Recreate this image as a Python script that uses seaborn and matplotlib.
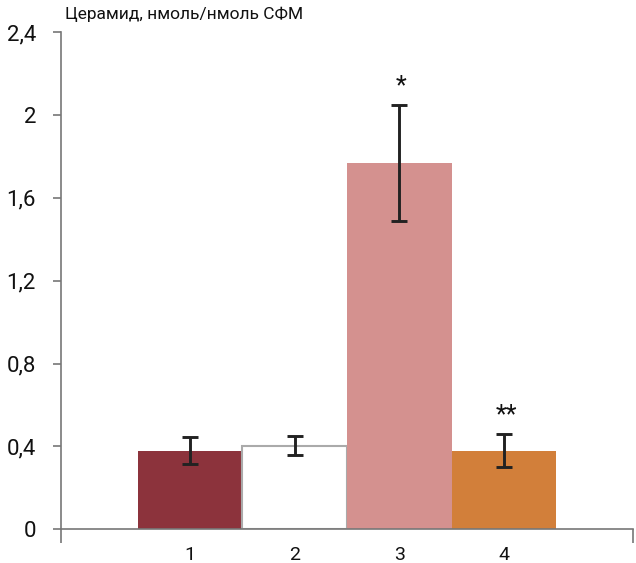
import matplotlib
matplotlib.use("Agg")
import matplotlib.pyplot as plt
import seaborn as sns
import numpy as np

# Ceramide content per group
groups = ["1", "2", "3", "4"]
ceramide = [0.38, 0.404, 1.77, 0.38]
sem = [0.066, 0.048, 0.28, 0.078]
marks = ["", "", "*", "**"]
bar_colors = ["#8C333C", "#FFFFFF", "#D4918F", "#D27F3A"]
y_ticks = [0, 0.4, 0.8, 1.2, 1.6, 2.0, 2.4]
y_tick_labels = ["0", "0,4", "0,8", "1,2", "1,6", "2", "2,4"]
y_title = "Церамид, нмоль/нмоль СФМ"

sns.set_style("white")
plt.rcParams["font.family"] = ["Roboto", "DejaVu Sans"]

fig = plt.figure(figsize=(6.36, 5.63), dpi=100)
ax = fig.add_axes([0.096, 0.060, 0.899, 0.883])

sns.barplot(x=groups, y=ceramide, hue=groups, palette=bar_colors,
            saturation=1, width=1.0, legend=False, ax=ax, errorbar=None,
            linewidth=0)
for i, p in enumerate(ax.patches):
    if bar_colors[i].upper() == "#FFFFFF":
        p.set_edgecolor("#AAAAAA")
        p.set_linewidth(1.5)

xpos = np.arange(len(groups))
ax.errorbar(xpos, ceramide, yerr=sem, fmt="none", ecolor="#222222",
            elinewidth=2.1, capsize=5.5, capthick=2.1, zorder=5)

for x, y, e, m in zip(xpos, ceramide, sem, marks):
    if m:
        ax.text(x + 0.02, y + e + 0.09, m, ha="center", va="center",
                fontsize=18, color="#111111")

ax.set_xlim(-1.23, 4.23)
ax.set_ylim(0, 2.4)
ax.set_yticks(y_ticks)
ax.set_yticklabels(y_tick_labels, fontsize=16, color="#111111")
ax.set_xticks(xpos)
ax.set_xticklabels(groups, fontsize=14, color="#111111")
ax.tick_params(axis="x", length=0, pad=12)
ax.tick_params(axis="y", length=6, width=1.2, color="#777777", pad=12,
               direction="out", left=True)
# end ticks on the category axis
ax.set_xticks([-1.23, 4.23], minor=True)
ax.tick_params(axis="x", which="minor", length=10, width=1.2,
               color="#777777", direction="out", bottom=True)

for side in ["top", "right"]:
    ax.spines[side].set_visible(False)
for side in ["left", "bottom"]:
    ax.spines[side].set_color("#777777")
    ax.spines[side].set_linewidth(1.2)
ax.set_xlabel("")
ax.set_ylabel("")

fig.text(0.102, 0.975, y_title, fontsize=12.5, color="#111111",
         ha="left", va="center")

fig.savefig("out.png", dpi=100)
